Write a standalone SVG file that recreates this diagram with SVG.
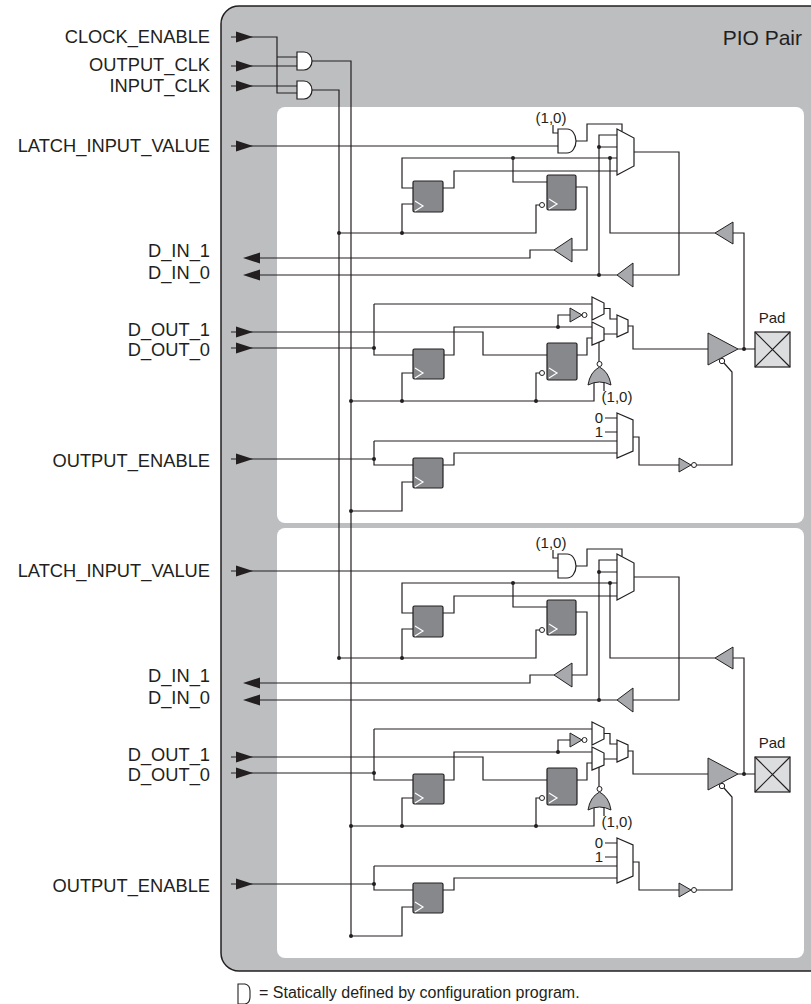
<svg xmlns="http://www.w3.org/2000/svg" width="811" height="1004" viewBox="0 0 811 1004">
<style>
.w{fill:none;stroke:#231f20;stroke-width:1.2}
.ff{fill:#87888b;stroke:#231f20;stroke-width:1.2}
.ck{fill:none;stroke:#fff;stroke-width:1.2}
.g{fill:#a7a9ac;stroke:#231f20;stroke-width:1}
.mx{fill:#fff;stroke:#231f20;stroke-width:1.2}
.dot{fill:#231f20}
.bub{fill:#fff;stroke:#231f20;stroke-width:1}
.arr{fill:#231f20}
.t{font-family:"Liberation Sans",Arial,sans-serif;font-size:18.3px;fill:#231f20}
.s{font-family:"Liberation Sans",Arial,sans-serif;font-size:15px;fill:#231f20}
</style>
<defs>
<g id="pio">
  <g id="labels">
    <text class="t" x="210" y="152" text-anchor="end">LATCH_INPUT_VALUE</text>
    <text class="t" x="210" y="257" text-anchor="end">D_IN_1</text>
    <text class="t" x="210" y="279" text-anchor="end">D_IN_0</text>
    <text class="t" x="210" y="336" text-anchor="end">D_OUT_1</text>
    <text class="t" x="210" y="356" text-anchor="end">D_OUT_0</text>
    <text class="t" x="210" y="467" text-anchor="end">OUTPUT_ENABLE</text>
  </g>
  <g id="connectors">
    <path class="w" d="M231,146 H558 M553,125 V133 H558 M576,141 H587 V124 H622 V131.5"/>
    <path class="w" d="M599,275 V135 H617 M599,147 H617"/>
    <path class="w" d="M715,233 H610 V158 M413,188 H402 V158 H617 M513,158 V182 H547"/>
    <path class="w" d="M443,188 H454 V171 H617"/>
    <path class="w" d="M634,152 H679 V275 H633"/>
    <path class="w" d="M252,275 H617 M252,258 H530 V250 H554 M572,250 H587 V187 H576"/>
    <path class="w" d="M733,233 H744 V349"/>
    <path class="w" d="M339,233 H536 V205 H539.5 M402,233 V204 H413"/>
    <path class="w" d="M231,332 H483 V355 H547 M231,348 H374 M374,304 V355 H413 M374,304 H592"/>
    <path class="w" d="M444,355 H454 V327 H592 M558,327 V315 H570 M577,355 H587 V338 H592"/>
    <path class="w" d="M604,308.5 H610 V319 H617 M604,334 H617 M599,342 V362"/>
    <path class="w" d="M351,401 H594 V382 M604,382 V391"/>
    <path class="w" d="M628,326 H633 V349 H708 M738,349 H755"/>
    <path class="w" d="M724,363 L732,372 V465 H697"/>
    <path class="w" d="M231,459 H374 M374,441 V465 H413 M374,441 H617 M443,465 H454 V453 H617 M633,437 H639 V465 H679"/>
    <path class="w" d="M605,418 H617 M605,432 H617"/>
    <path class="w" d="M351,511 H402 V482 H413 M402,401 V373 H413 M536,401 V373 H539.5"/>
    <g class="arr">
      <polygon points="236,140.5 253,146 236,151.5"/>
      <polygon points="236,326.5 253,332 236,337.5"/>
      <polygon points="236,342.5 253,348 236,353.5"/>
      <polygon points="236,453.5 253,459 236,464.5"/>
      <polygon points="243,258 260,252.5 260,263.5"/>
      <polygon points="243,275 260,269.5 260,280.5"/>
    </g>
    <g class="dot">
      <circle cx="339" cy="233" r="2"/><circle cx="402" cy="233" r="2"/>
      <circle cx="513" cy="158" r="2"/><circle cx="610" cy="158" r="2"/>
      <circle cx="599" cy="147" r="2"/><circle cx="599" cy="275" r="2"/>
      <circle cx="351" cy="401" r="2"/><circle cx="402" cy="401" r="2"/>
      <circle cx="536" cy="401" r="2"/><circle cx="374" cy="348" r="2"/>
      <circle cx="558" cy="327" r="2"/><circle cx="744" cy="349" r="2"/>
      <circle cx="374" cy="459" r="2"/><circle cx="351" cy="511" r="2"/>
    </g>
  </g>
  <g id="latch-and">
    <path class="mx" d="M558,129 H567 A9,12 0 0 1 567,153 H558 Z"/>
    <text class="s" x="551" y="123" text-anchor="middle">(1,0)</text>
  </g>
  <g id="in-mux"><polygon class="mx" points="617,129 634,138 634,166 617,175"/></g>
  <g id="ff1"><rect class="ff" x="413" y="181" width="30" height="31" rx="1.5"/><polyline class="ck" points="415,201 423,206 415,211"/></g>
  <g id="ff2"><rect class="ff" x="547" y="175" width="29" height="35" rx="1.5"/><polyline class="ck" points="549,199 557,204 549,209"/><circle class="bub" cx="542" cy="205" r="2.5"/></g>
  <g id="buf-din1"><polygon class="g" points="554,250 572,238 572,262"/></g>
  <g id="buf-din0"><polygon class="g" points="617,275 633,263 633,287"/></g>
  <g id="buf-pad-in"><polygon class="g" points="715,233 733,222 733,244"/></g>
  <g id="ff3"><rect class="ff" x="413" y="349" width="31" height="30" rx="1.5"/><polyline class="ck" points="415,368 423,373 415,378"/></g>
  <g id="ff4"><rect class="ff" x="547" y="343" width="30" height="37" rx="1.5"/><polyline class="ck" points="549,368 557,373 549,378"/><circle class="bub" cx="542" cy="373" r="2.5"/></g>
  <g id="inv-out"><polygon class="g" points="570,308 582,315 570,322"/><circle class="bub" cx="584.5" cy="315" r="2.5"/></g>
  <g id="mux-a"><polygon class="mx" points="592,297 604,303 604,314 592,320"/></g>
  <g id="mux-b"><polygon class="mx" points="592,322 604,328 604,340 592,345"/></g>
  <g id="mux-c"><polygon class="mx" points="617,315 628,320 628,332 617,337"/></g>
  <g id="nor">
    <path class="g" d="M588,385 Q590,372 599.5,367 Q609,372 611,385 Q599.5,379 588,385 Z"/>
    <circle class="bub" cx="599.5" cy="364" r="2.5"/>
    <text class="s" x="617" y="402" text-anchor="middle">(1,0)</text>
  </g>
  <g id="tristate"><polygon class="g" points="708,333 738,349 708,365"/><circle class="bub" cx="722" cy="361" r="2.7"/></g>
  <g id="pad">
    <rect x="755" y="332" width="35" height="35" fill="#dcdddf" stroke="#231f20" stroke-width="1.2"/>
    <path class="w" d="M755,332 L790,367 M790,332 L755,367"/>
    <text class="s" x="772" y="323" text-anchor="middle">Pad</text>
  </g>
  <g id="oe-mux">
    <polygon class="mx" points="617,413 633,420 633,451 617,458"/>
    <text class="s" x="603" y="423" text-anchor="end">0</text>
    <text class="s" x="603" y="437" text-anchor="end">1</text>
  </g>
  <g id="ff5"><rect class="ff" x="413" y="458" width="30" height="30" rx="1.5"/><polyline class="ck" points="415,477 423,482 415,487"/></g>
  <g id="inv-oe"><polygon class="g" points="679,458 691,465 679,472"/><circle class="bub" cx="694" cy="465" r="2.5"/></g>
</g>
</defs>
<g id="pio-pair">
  <rect x="221" y="6" width="640" height="965" rx="18" fill="#bcbec0" stroke="#231f20" stroke-width="1.5"/>
  <text x="802" y="45" text-anchor="end" font-family="Liberation Sans, Arial, sans-serif" font-size="21" fill="#231f20">PIO Pair</text>
  <rect x="277" y="107" width="527" height="416" rx="8" fill="#fff"/>
  <rect x="277" y="528" width="527" height="430" rx="8" fill="#fff"/>
</g>
<g id="clock-inputs">
  <text class="t" x="210" y="43" text-anchor="end">CLOCK_ENABLE</text>
  <text class="t" x="210" y="71" text-anchor="end">OUTPUT_CLK</text>
  <text class="t" x="210" y="92" text-anchor="end">INPUT_CLK</text>
  <path class="w" d="M231,37 H277 V93 H297 M277,57 H297 M231,66 H297 M231,86 H297"/>
  <path class="w" d="M312,61 H351 V936 M312,90 H339 V658"/>
  <g class="arr">
    <polygon points="236,31.5 253,37 236,42.5"/>
    <polygon points="236,60.5 253,66 236,71.5"/>
    <polygon points="236,80.5 253,86 236,91.5"/>
  </g>
  <g id="and-outclk"><path class="mx" d="M297,52 H304 A8,9 0 0 1 304,70 H297 Z"/></g>
  <g id="and-inclk"><path class="mx" d="M297,81 H304 A8,9 0 0 1 304,99 H297 Z"/></g>
</g>
<use id="pio-0" href="#pio"/>
<use id="pio-1" href="#pio" transform="translate(0,425)"/>
<g id="legend">
  <path d="M238,984 H245 Q250,985 250,991 V997 Q250,1003 245,1004 H238 Z" fill="#fff" stroke="#231f20" stroke-width="1.1"/>
  <text x="259" y="998" font-family="Liberation Sans, Arial, sans-serif" font-size="16" fill="#231f20">= Statically defined by configuration program.</text>
</g>
</svg>
